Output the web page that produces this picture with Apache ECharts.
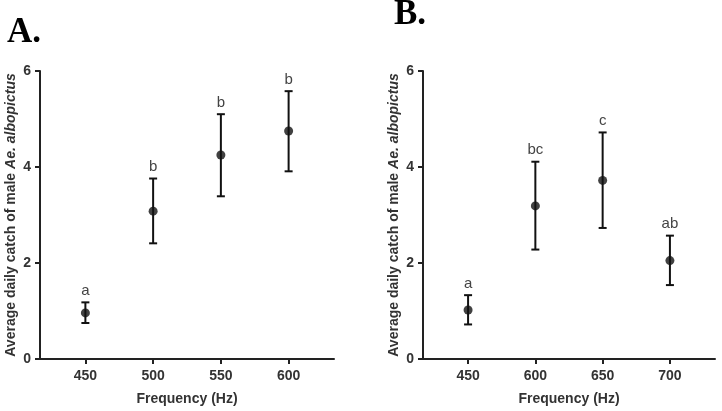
<!DOCTYPE html>
<html>
<head>
<meta charset="utf-8">
<script src="https://cdn.jsdelivr.net/npm/echarts@6/dist/echarts.min.js"></script>
<style>html,body{margin:0;padding:0;background:#fff;}#c{width:722px;height:411px;}</style>
</head>
<body>
<div id="c"></div>
<script>
var catsA = ['450', '500', '550', '600'];
var meanA = [0.96, 3.08, 4.25, 4.75];
var lowA = [0.75, 2.41, 3.39, 3.91];
var highA = [1.18, 3.76, 5.10, 5.58];
var lettersA = ['a', 'b', 'b', 'b'];

var catsB = ['450', '600', '650', '700'];
var meanB = [1.02, 3.19, 3.72, 2.05];
var lowB = [0.72, 2.28, 2.73, 1.54];
var highB = [1.33, 4.11, 4.72, 2.57];
var lettersB = ['a', 'bc', 'c', 'ab'];

var yTicks = [0, 2, 4, 6];

var chart = echarts.init(document.getElementById('c'), null, {renderer: 'canvas'});
var txt = '#333';
var font = 'Liberation Sans';

function xAxis(idx, cats) {
  return {
    type: 'value', gridIndex: idx, min: -0.67, max: 3.67,
    name: 'Frequency (Hz)', nameLocation: 'middle', nameGap: 33,
    nameTextStyle: {fontFamily: font, fontWeight: 'bold', fontSize: 14, color: txt},
    axisLine: {onZero: false, lineStyle: {color: '#222', width: 2}},
    axisTick: {show: true, length: 5, lineStyle: {color: '#222', width: 2}, customValues: [0, 1, 2, 3]},
    axisLabel: {customValues: [0, 1, 2, 3], formatter: function (v) { return cats[Math.round(v)]; },
      fontFamily: font, fontWeight: 'bold', fontSize: 14, color: txt, margin: 10},
    splitLine: {show: false}
  };
}
function yAxis(idx) {
  return {
    type: 'value', gridIndex: idx, min: 0, max: 6, interval: 2,
    name: 'Average daily catch of male {i|Ae. albopictus}', nameLocation: 'middle', nameGap: 22,
    nameTextStyle: {fontFamily: font, fontWeight: 'bold', fontSize: 14, color: txt,
      rich: {i: {fontFamily: font, fontWeight: 'bold', fontStyle: 'italic', fontSize: 14, color: txt}}},
    axisLine: {show: true, onZero: false, lineStyle: {color: '#222', width: 2}},
    axisTick: {show: true, length: 5, lineStyle: {color: '#222', width: 2}},
    axisLabel: {formatter: function (v) { return yTicks.indexOf(v) >= 0 ? String(v) : ''; },
      fontFamily: font, fontWeight: 'bold', fontSize: 14, color: txt, margin: 9},
    splitLine: {show: false}
  };
}
function errSeries(idx, low, high, letters) {
  var data = low.map(function (l, i) { return [i, l, high[i]]; });
  return {
    type: 'custom', xAxisIndex: idx, yAxisIndex: idx, data: data,
    encode: {x: 0, y: [1, 2]},
    renderItem: function (params, api) {
      var x = api.value(0);
      var lo = api.coord([x, api.value(1)]);
      var hi = api.coord([x, api.value(2)]);
      var w = 4;
      var st = {stroke: '#111', lineWidth: 2};
      return {type: 'group', children: [
        {type: 'line', shape: {x1: lo[0], y1: lo[1], x2: hi[0], y2: hi[1]}, style: st},
        {type: 'line', shape: {x1: lo[0] - w, y1: lo[1], x2: lo[0] + w, y2: lo[1]}, style: st},
        {type: 'line', shape: {x1: hi[0] - w, y1: hi[1], x2: hi[0] + w, y2: hi[1]}, style: st},
        {type: 'text', style: {text: letters[params.dataIndex], x: hi[0], y: hi[1] - 4,
          align: 'center', verticalAlign: 'bottom', fill: '#444', font: '15px ' + font}}
      ]};
    },
    z: 2
  };
}
function meanSeries(idx, mean) {
  return {
    type: 'scatter', xAxisIndex: idx, yAxisIndex: idx,
    data: mean.map(function (m, i) { return [i, m]; }),
    symbol: 'circle', symbolSize: 9, itemStyle: {color: '#111'}, z: 3, silent: true
  };
}

chart.setOption({
  animation: false,
  backgroundColor: '#fff',
  grid: [
    {left: 40, top: 71, width: 294, height: 288},
    {left: 423, top: 71, width: 292, height: 289}
  ],
  xAxis: [xAxis(0, catsA), xAxis(1, catsB)],
  yAxis: [yAxis(0), yAxis(1)],
  series: [
    errSeries(0, lowA, highA, lettersA), meanSeries(0, meanA),
    errSeries(1, lowB, highB, lettersB), meanSeries(1, meanB)
  ],
  graphic: [
    {type: 'text', left: 7, top: 15, style: {text: 'A.', font: 'bold 35px "Liberation Serif"', fill: '#000'}},
    {type: 'text', left: 394, top: -3, style: {text: 'B.', font: 'bold 35px "Liberation Serif"', fill: '#000'}}
  ]
});
</script>
</body>
</html>
